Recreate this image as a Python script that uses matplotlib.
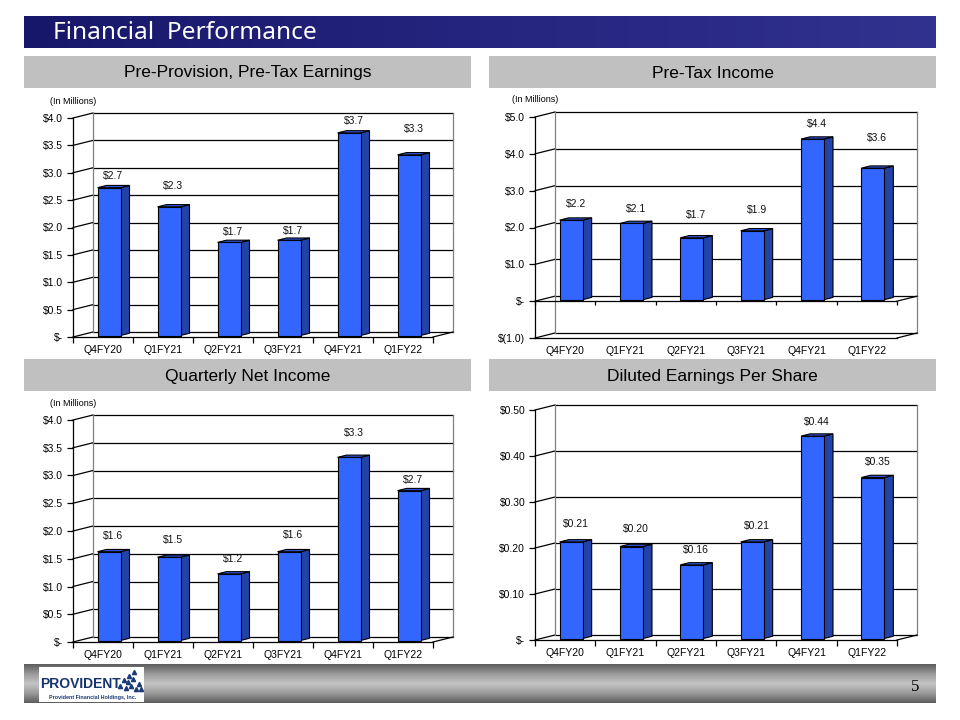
import matplotlib
matplotlib.use('Agg')
import matplotlib.pyplot as plt
import numpy as np
from matplotlib.patches import Rectangle, Polygon
from matplotlib.colors import LinearSegmentedColormap

plt.rcParams['font.family'] = ['Liberation Sans', 'DejaVu Sans']

W, H = 960, 720

quarters = ['Q4FY20', 'Q1FY21', 'Q2FY21', 'Q3FY21', 'Q4FY21', 'Q1FY22']

pppt_values = [2.7, 2.35, 1.7, 1.74, 3.7, 3.3]
pppt_labels = ['$2.7', '$2.3', '$1.7', '$1.7', '$3.7', '$3.3']

pretax_values = [2.16, 2.07, 1.68, 1.87, 4.36, 3.57]
pretax_labels = ['$2.2', '$2.1', '$1.7', '$1.9', '$4.4', '$3.6']

net_values = [1.6, 1.5, 1.2, 1.6, 3.3, 2.7]
net_labels = ['$1.6', '$1.5', '$1.2', '$1.6', '$3.3', '$2.7']

eps_values = [0.21, 0.20, 0.16, 0.21, 0.44, 0.35]
eps_labels = ['$0.21', '$0.20', '$0.16', '$0.21', '$0.44', '$0.35']

pppt_ticks = [0, 0.5, 1.0, 1.5, 2.0, 2.5, 3.0, 3.5, 4.0]
pppt_ticklabels = ['$-', '$0.5', '$1.0', '$1.5', '$2.0', '$2.5', '$3.0', '$3.5', '$4.0']
pretax_ticks = [-1, 0, 1, 2, 3, 4, 5]
pretax_ticklabels = ['$(1.0)', '$-', '$1.0', '$2.0', '$3.0', '$4.0', '$5.0']
net_ticks = pppt_ticks
net_ticklabels = pppt_ticklabels
eps_ticks = [0, 0.1, 0.2, 0.3, 0.4, 0.5]
eps_ticklabels = ['$-', '$0.10', '$0.20', '$0.30', '$0.40', '$0.50']

# label distance above bar (pixels) - style/placement only
pppt_gap = [11.7, 20.7, 10.3, 9, 12, 25.7]
pretax_gap = [16, 14.4, 22.7, 21, 15, 30.6]
net_gap = [16, 17.3, 15, 16.7, 24, 11]
eps_gap = [17.7, 17.7, 14.7, 16, 14, 15.7]

FRONT = '#3366FF'
SIDE = '#2343A8'
TOP = '#2F55E0'

fig = plt.figure(figsize=(W / 100, H / 100), dpi=100)
fig.patch.set_facecolor('white')


def fx(x):
    return x / W


def fy(y):
    return 1 - y / H


# ---- Title banner (gradient) ----
tax = fig.add_axes([fx(24), fy(48), fx(936) - fx(24), fy(16) - fy(48)])
grad = np.linspace(0, 1, 256).reshape(1, -1)
navy = LinearSegmentedColormap.from_list('navy', ['#17176a', '#25257f', '#31318f'])
tax.imshow(grad, aspect='auto', cmap=navy, extent=[0, 1, 0, 1])
tax.set_axis_off()
fig.text(fx(53), fy(33), 'Financial  Performance', color='white', fontsize=17.6,
         family=['Noto Sans', 'DejaVu Sans'], va='center', ha='left')

# ---- Section headers ----
headers = [
    (24, 471, 56, 88, 'Pre-Provision, Pre-Tax Earnings'),
    (489, 936, 56, 88, 'Pre-Tax Income'),
    (24, 471, 359, 391, 'Quarterly Net Income'),
    (489, 936, 359, 391, 'Diluted Earnings Per Share'),
]
for l, r, t, b, txt in headers:
    fig.add_artist(Rectangle((fx(l), fy(b)), fx(r) - fx(l), fy(t) - fy(b),
                             transform=fig.transFigure, facecolor='#C0C0C0',
                             edgecolor='none', zorder=0))
    fig.text(fx((l + r) / 2), fy((t + b) / 2 + 1), txt, fontsize=12.5,
             ha='center', va='center', color='black')


def chart(l, r, t, b, vals, labels, gaps, ticks, ticklabels, zero_axis=False, millions=True):
    ymin, ymax = ticks[0], ticks[-1]
    ax = fig.add_axes([fx(l), fy(b), fx(r) - fx(l), fy(t) - fy(b)])
    ax.set_xlim(0, 6)
    ax.set_ylim(ymin, ymax)
    ax.patch.set_alpha(0)
    ux = 6 / (r - l)
    uy = (ymax - ymin) / (b - t)
    WX, WY = 20 * ux, 5 * uy          # back-wall offset
    BX, BY = 6 * ux, 1.5 * uy         # bar front offset
    DX, DY = 9 * ux, 2.25 * uy        # bar depth
    bw = 23 * ux

    for s in ['top', 'right']:
        ax.spines[s].set_visible(False)
    ax.spines['left'].set_linewidth(0.9)
    ax.spines['bottom'].set_linewidth(0.9)

    # back wall
    for yv in ticks:
        ax.plot([WX, 6 + WX], [yv + WY, yv + WY], color='black', lw=0.9, clip_on=False, zorder=1)
        ax.plot([0, WX], [yv, yv + WY], color='black', lw=0.9, clip_on=False, zorder=1)
    ax.plot([WX, WX], [ymin + WY, ymax + WY], color='#808080', lw=0.9, clip_on=False, zorder=1)
    ax.plot([6 + WX, 6 + WX], [ymin + WY, ymax + WY], color='#808080', lw=0.9, clip_on=False, zorder=1)
    ax.plot([6, 6 + WX], [ymin, ymin + WY], color='black', lw=0.9, clip_on=False, zorder=1)

    if zero_axis:
        ax.plot([0, 6], [0, 0], color='black', lw=0.9, zorder=2)
        ax.plot([6, 6 + WX], [0, WY], color='black', lw=0.9, clip_on=False, zorder=2)
        ax.vlines(range(7), -4 * uy, 0, color='black', lw=0.9, clip_on=False, zorder=2)

    # bars
    for i, (v, lab, g) in enumerate(zip(vals, labels, gaps)):
        xc = i + 0.5 + BX
        xl, xr = xc - bw / 2, xc + bw / 2
        y0, y1 = BY, v + BY
        ax.add_patch(Rectangle((xl, y0), bw, v, facecolor=FRONT, edgecolor='black',
                               lw=0.8, zorder=4, clip_on=False))
        ax.add_patch(Polygon([(xr, y0), (xr, y1), (xr + DX, y1 + DY), (xr + DX, y0 + DY)],
                             closed=True, facecolor=SIDE, edgecolor='black', lw=0.8,
                             zorder=3, clip_on=False))
        ax.add_patch(Polygon([(xl, y1), (xr, y1), (xr + DX, y1 + DY), (xl + DX, y1 + DY)],
                             closed=True, facecolor=TOP, edgecolor='black', lw=0.8,
                             zorder=3, clip_on=False))
        ax.annotate(lab, xy=(xc + DX / 2, y1), xytext=(0, g * 0.72),
                    textcoords='offset points', ha='center', va='center',
                    fontsize=7.5, color='#111111', zorder=6)

    ax.set_yticks(ticks)
    ax.set_yticklabels(ticklabels)
    ax.tick_params(axis='y', length=4, width=0.9, pad=3, labelsize=7.5, direction='out')
    ax.set_xticks(range(7))
    ax.set_xticklabels([''] * 7)
    ax.set_xticks([i + 0.5 for i in range(6)], minor=True)
    ax.set_xticklabels(quarters, minor=True)
    ax.tick_params(axis='x', which='major', length=0 if zero_axis else 4, width=0.9,
                   direction='out')
    ax.tick_params(axis='x', which='minor', length=0, pad=6, labelsize=7.5)
    if millions:
        fig.text(fx(l - 23), fy(t - 17), '(In Millions)', fontsize=6.5, ha='left', va='center')
    return ax


chart(73, 433, 118, 337, pppt_values, pppt_labels, pppt_gap, pppt_ticks, pppt_ticklabels)
chart(535, 897, 117, 338, pretax_values, pretax_labels, pretax_gap, pretax_ticks,
      pretax_ticklabels, zero_axis=True)
chart(73, 433, 420, 642, net_values, net_labels, net_gap, net_ticks, net_ticklabels)
chart(535, 897, 410, 640, eps_values, eps_labels, eps_gap, eps_ticks, eps_ticklabels,
      millions=False)

# ---- Footer ----
fax = fig.add_axes([fx(24), fy(703), fx(936) - fx(24), fy(664) - fy(703)])
vg = np.concatenate([np.linspace(0, 1, 128), np.linspace(1, 0, 128)]).reshape(-1, 1)
gray = LinearSegmentedColormap.from_list('gray', ['#5c5c5c', '#9a9a9a', '#c4c4c4'])
fax.imshow(vg, aspect='auto', cmap=gray, extent=[0, 1, 0, 1])
fax.set_axis_off()

fig.add_artist(Rectangle((fx(39), fy(702)), fx(144) - fx(39), fy(667) - fy(702),
                         transform=fig.transFigure, facecolor='white', edgecolor='none',
                         zorder=5))
fig.text(fx(40), fy(684), 'PROVIDENT', fontsize=10, fontweight='bold',
         color='#16346e', ha='left', va='center', zorder=6)
fig.text(fx(49), fy(697), 'Provident Financial Holdings, Inc.', fontsize=3.9,
         fontweight='bold', color='#1a3a78', ha='left', va='center', zorder=6)
tri_x = [fx(v) for v in [124, 129, 134, 139, 126, 131, 136, 141, 128, 133, 120]]
tri_y = [fy(v) for v in [680, 676, 672, 684, 688, 686, 689, 689, 682, 679, 686]]
fig.add_artist(plt.Line2D(tri_x, tri_y, transform=fig.transFigure, linestyle='none',
                          marker='^', markersize=3, color='#1a3a78', zorder=6))
fig.text(fx(915), fy(687), '5', fontsize=12, family=['Liberation Serif', 'DejaVu Serif'],
         ha='center', va='center', color='black')

fig.savefig('out.png', dpi=100)
